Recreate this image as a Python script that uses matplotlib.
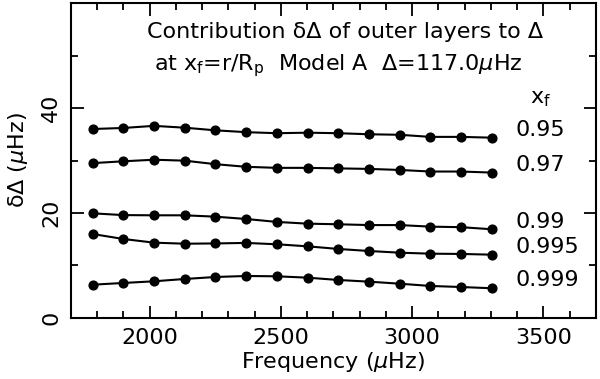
import matplotlib
matplotlib.use('Agg')
import matplotlib.pyplot as plt
from matplotlib.ticker import MultipleLocator

# frequencies of the modes (muHz)
freq = [1783, 1900, 2017, 2134, 2251, 2368, 2485, 2602, 2719, 2836, 2953, 3070, 3187, 3304]

# contribution dDelta for each cut-off radius x_f
xf_labels = ['0.95', '0.97', '0.99', '0.995', '0.999']
d_095 = [36.0, 36.2, 36.6, 36.25, 35.75, 35.4, 35.2, 35.3, 35.2, 35.0, 34.9, 34.5, 34.5, 34.35]
d_097 = [29.5, 29.85, 30.15, 29.97, 29.3, 28.8, 28.6, 28.6, 28.5, 28.4, 28.2, 27.9, 27.9, 27.7]
d_099 = [19.94, 19.6, 19.56, 19.56, 19.3, 18.86, 18.3, 17.97, 17.85, 17.7, 17.7, 17.4, 17.3, 16.9]
d_0995 = [16.0, 15.05, 14.35, 14.15, 14.2, 14.3, 14.04, 13.65, 13.15, 12.76, 12.44, 12.25, 12.2, 12.06]
d_0999 = [6.34, 6.67, 6.99, 7.43, 7.81, 8.0, 7.94, 7.68, 7.24, 6.92, 6.53, 6.1, 5.9, 5.66]
series = [d_095, d_097, d_099, d_0995, d_0999]
label_y = [35.8, 29.1, 18.35, 13.6, 7.24]

plt.rcParams['mathtext.fontset'] = 'dejavusans'
fs = 16

fig = plt.figure(figsize=(6, 3.79), dpi=100)
ax = fig.add_axes([0.118, 0.161, 0.875, 0.831])

for vals in series:
    ax.plot(freq, vals, 'k-', lw=1.5, marker='o', ms=6.3)

for lab, yy in zip(xf_labels, label_y):
    ax.text(3393, yy, lab, fontsize=fs, va='center', ha='left')
ax.text(3450, 41.8, r'x$_\mathregular{f}$', fontsize=fs, va='center', ha='left')

ax.text(2745, 54.5, 'Contribution δΔ of outer layers to Δ', fontsize=fs, ha='center', va='center')
ax.text(2720, 48.0, r'at x$_\mathregular{f}$=r/R$_\mathregular{p}$  Model A  Δ=117.0$\mu$Hz',
        fontsize=fs, ha='center', va='center')

ax.set_xlim(1700, 3700)
ax.set_ylim(0, 60)
ax.xaxis.set_major_locator(MultipleLocator(500))
ax.xaxis.set_minor_locator(MultipleLocator(100))
ax.yaxis.set_minor_locator(MultipleLocator(10))
ax.tick_params(which='both', direction='in', top=True, right=True, width=1.3, labelsize=fs)
ax.tick_params(which='major', length=9)
ax.tick_params(which='minor', length=5)
ax.tick_params(axis='x', pad=7)
ax.tick_params(axis='y', pad=7)
ax.set_yticks([0, 20, 40])
ax.set_yticklabels(['0', '20', '40'], va='center', rotation=90)
for s in ax.spines.values():
    s.set_linewidth(1.5)

ax.set_xlabel(r'Frequency ($\mu$Hz)', fontsize=fs, labelpad=2)
ax.set_ylabel(r'δΔ ($\mu$Hz)', fontsize=fs, labelpad=8)

fig.savefig('out.png', dpi=100)
